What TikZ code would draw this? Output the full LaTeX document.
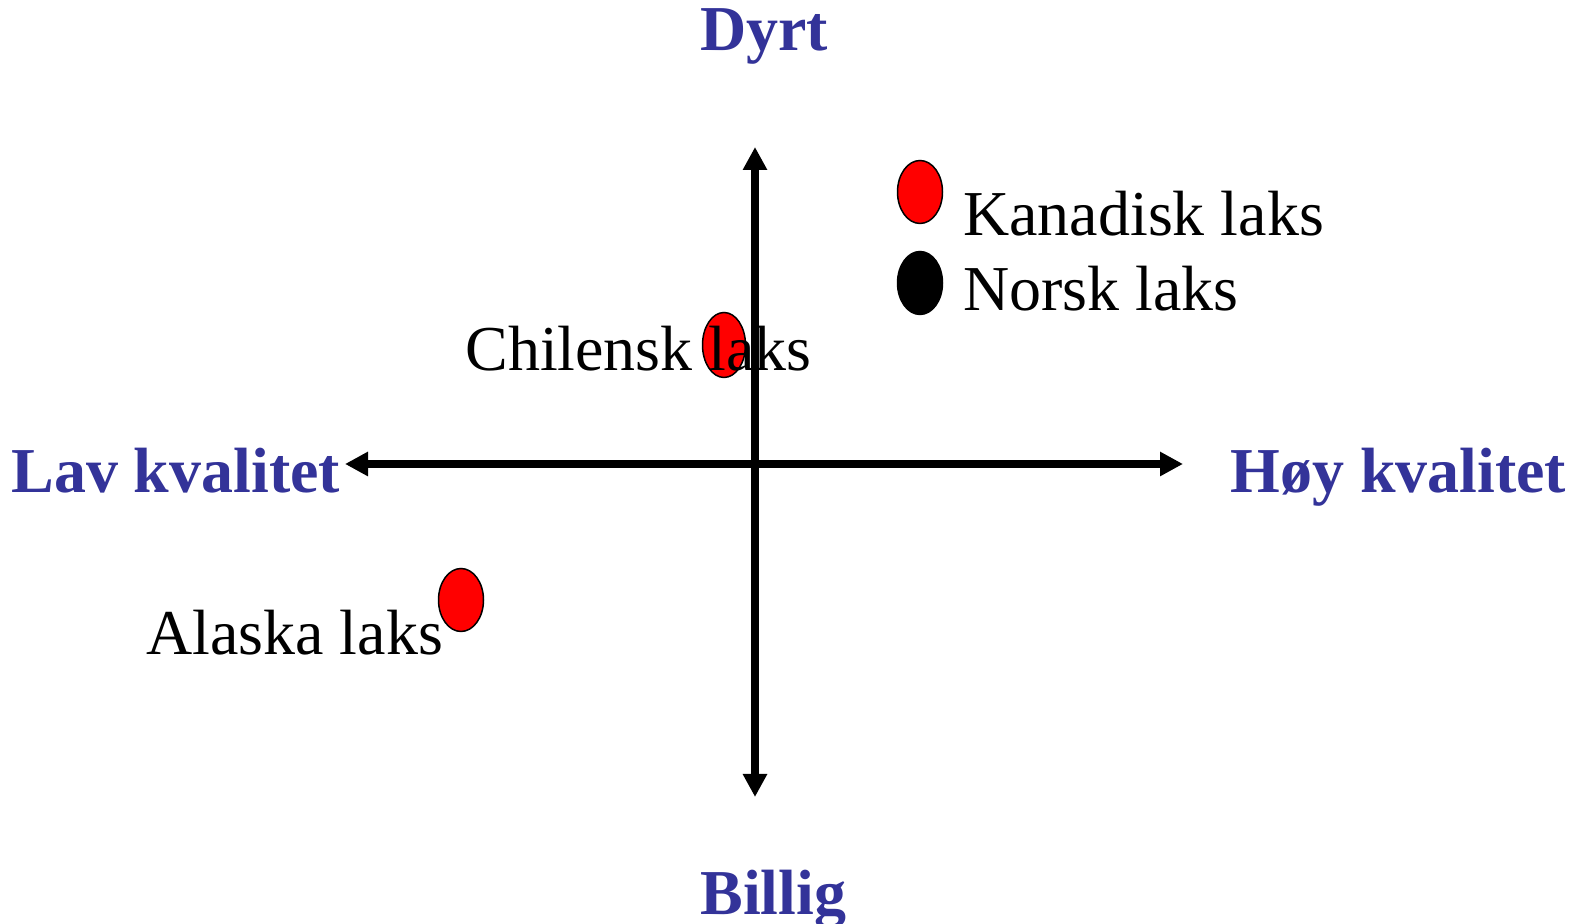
\documentclass[tikz,border=0pt]{standalone}
\usepackage{fontspec}
\setmainfont{Liberation Serif}
\usepackage{xcolor}
\usepackage{tikz}
\usetikzlibrary{arrows.meta,shapes.geometric}

\definecolor{axisblue}{HTML}{333399}

\begin{document}
\begin{tikzpicture}[
	axislabel/.style={anchor=base west,inner sep=0,text=axisblue,font=\fontsize{36.4pt}{40pt}\selectfont\bfseries},
	lakslabel/.style={anchor=base west,inner sep=0,font=\fontsize{36.4pt}{40pt}\selectfont},
	dot/.style={ellipse,draw,line width=0.85pt,inner sep=0,minimum width=0.9cm,minimum height=1.26cm},
	axis/.style={line width=0.16cm,{Triangle[width=0.46cm,length=0.46cm]}-{Triangle[width=0.46cm,length=0.46cm]}}]
	\useasboundingbox (0,0) rectangle (31.66,18.48);

	\node[dot,fill=red] (kanadisk) at (18.4,14.64) {};
	\node[dot,fill=black] (norsk) at (18.4,12.82) {};
	\node[dot,fill=red,minimum width=0.86cm,minimum height=1.3cm] (chilensk) at (14.48,11.58) {};
	\node[dot,fill=red] (alaska) at (9.22,6.48) {};

	\node[lakslabel] (kanadisktxt) at (19.26,13.77) {Kanadisk laks};
	\node[lakslabel] (norsktxt) at (19.26,12.27) {Norsk laks};
	\node[lakslabel] (chilensktxt) at (9.3,11.07) {Chilensk laks};
	\node[lakslabel] (alaskatxt) at (2.92,5.39) {Alaska laks};

	\node[axislabel] (dyrt) at (14.0,17.46) {Dyrt};
	\node[axislabel] (billig) at (14.0,0.19) {Billig};
	\node[axislabel] (lav) at (0.22,8.63) {Lav kvalitet};
	\node[axislabel] (hoy) at (24.6,8.63) {Høy kvalitet};

	\coordinate (top) at (15.1,15.54);
	\coordinate (bottom) at (15.1,2.54);
	\coordinate (left) at (6.9,9.2);
	\coordinate (right) at (23.66,9.2);
	\draw[axis] (bottom) -- (top);
	\draw[axis] (left) -- (right);
\end{tikzpicture}
\end{document}
